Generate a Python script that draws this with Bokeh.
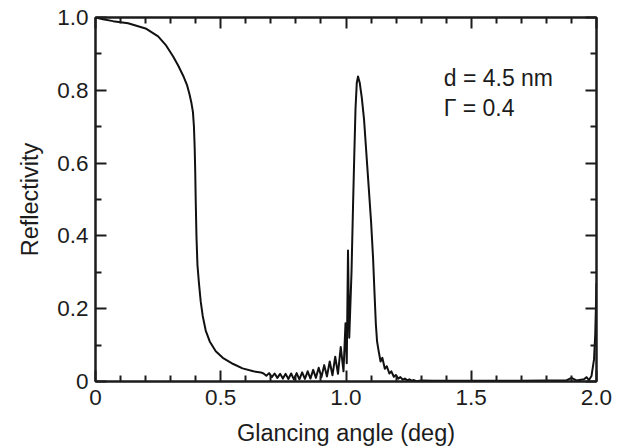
from bokeh.plotting import figure
from bokeh.models import Range1d, LinearAxis, FixedTicker, Label, ColumnDataSource
from bokeh.embed import file_html
from bokeh.resources import INLINE

# ---- data ----
angle_deg = [
    0.000, 0.030, 0.070, 0.130, 0.200, 0.250, 0.280, 0.310, 0.330, 0.350,
    0.365, 0.375, 0.383, 0.389, 0.393, 0.396, 0.398, 0.400, 0.403, 0.407,
    0.413, 0.420, 0.428, 0.440, 0.456, 0.480, 0.508, 0.550, 0.587, 0.630,
    0.660, 0.671, 0.682, 0.693, 0.704, 0.715, 0.726, 0.737, 0.748, 0.759,
    0.770, 0.781, 0.792, 0.803, 0.814, 0.825, 0.836, 0.847, 0.858, 0.869,
    0.880, 0.891, 0.902, 0.913, 0.924, 0.935, 0.946, 0.957, 0.968, 0.979,
    0.990, 0.998, 1.003, 1.008, 1.013, 1.022, 1.028, 1.033, 1.038, 1.043,
    1.048, 1.055, 1.063, 1.072, 1.080, 1.090, 1.100, 1.108, 1.114, 1.119,
    1.124, 1.130, 1.138, 1.145, 1.155, 1.163, 1.173, 1.181, 1.191,
    1.199, 1.209, 1.217, 1.227, 1.235, 1.245, 1.253, 1.263, 1.271, 1.281,
    1.300, 1.350, 1.400, 1.500, 1.600, 1.700, 1.800, 1.880, 1.900, 1.920,
    1.950, 1.960, 1.970, 1.980, 1.990, 1.995, 2.000,
]
reflectivity = [
    1.000, 0.995, 0.990, 0.984, 0.970, 0.948, 0.925, 0.893, 0.868, 0.840,
    0.815, 0.790, 0.765, 0.740, 0.700, 0.640, 0.580, 0.500, 0.400, 0.320,
    0.270, 0.220, 0.180, 0.140, 0.110, 0.083, 0.065, 0.048, 0.036, 0.028,
    0.025, 0.022, 0.016, 0.023, 0.012, 0.022, 0.010, 0.021, 0.008, 0.021,
    0.007, 0.022, 0.006, 0.023, 0.006, 0.025, 0.007, 0.028, 0.008, 0.032,
    0.010, 0.038, 0.012, 0.045, 0.014, 0.055, 0.017, 0.068, 0.021, 0.095,
    0.028, 0.160, 0.050, 0.360, 0.120, 0.300, 0.480, 0.620, 0.750, 0.820,
    0.838, 0.820, 0.780, 0.720, 0.640, 0.540, 0.440, 0.340, 0.240, 0.160,
    0.110, 0.085, 0.055, 0.065, 0.035, 0.042, 0.022, 0.028, 0.013,
    0.018, 0.008, 0.012, 0.005, 0.008, 0.003, 0.006, 0.002, 0.004, 0.001,
    0.003, 0.002, 0.002, 0.002, 0.002, 0.002, 0.003, 0.003, 0.010, 0.003,
    0.006, 0.012, 0.004, 0.015, 0.060, 0.130, 0.270,
]

x_ticks = [0.0, 0.5, 1.0, 1.5, 2.0]
x_tick_labels = ["0", "0.5", "1.0", "1.5", "2.0"]
x_minor_ticks = [0.1, 0.2, 0.3, 0.4, 0.6, 0.7, 0.8, 0.9, 1.1, 1.2, 1.3, 1.4,
                 1.6, 1.7, 1.8, 1.9]
y_ticks = [0.0, 0.2, 0.4, 0.6, 0.8, 1.0]
y_tick_labels = ["0", "0.2", "0.4", "0.6", "0.8", "1.0"]
y_minor_ticks = [0.1, 0.3, 0.5, 0.7, 0.9]

x_title = "Glancing angle (deg)"
y_title = "Reflectivity"
note_lines = ["d = 4.5 nm", "\u0393 = 0.4"]
note_x = [1.39, 1.39]
note_y = [0.834, 0.752]

FONT = "Liberation Sans"
INK = "#1c1c1c"

p = figure(width=617, height=448, output_backend="svg", toolbar_location=None,
           x_range=Range1d(0, 2), y_range=Range1d(0, 1),
           min_border_left=95, min_border_right=21,
           min_border_top=17, min_border_bottom=64)
p.xgrid.visible = False
p.ygrid.visible = False
p.outline_line_color = INK
p.outline_line_width = 2
p.background_fill_color = "white"
p.border_fill_color = "white"

src = ColumnDataSource(dict(x=angle_deg, y=reflectivity))
p.line("x", "y", source=src, line_color="#111111", line_width=2,
       line_join="round")


def style_axis(ax, ticks, minor, labels, show_labels):
    ax.ticker = FixedTicker(ticks=ticks, minor_ticks=minor)
    ax.axis_line_color = INK
    ax.axis_line_width = 2
    ax.major_tick_line_color = INK
    ax.minor_tick_line_color = INK
    ax.major_tick_line_width = 2
    ax.minor_tick_line_width = 2
    ax.major_tick_in = 11
    ax.major_tick_out = 0
    ax.minor_tick_in = 6
    ax.minor_tick_out = 0
    if show_labels:
        ax.major_label_overrides = {t: l for t, l in zip(ticks, labels)}
        ax.major_label_text_font = FONT
        ax.major_label_text_font_size = "22.5px"
        ax.major_label_text_color = INK
        ax.axis_label_text_font = FONT
        ax.axis_label_text_font_size = "23.5px"
        ax.axis_label_text_font_style = "normal"
        ax.axis_label_text_color = INK
    else:
        ax.major_label_text_font_size = "1px"
        ax.major_label_text_color = None
        ax.major_label_standoff = 0


xa = p.xaxis[0]
style_axis(xa, x_ticks, x_minor_ticks, x_tick_labels, True)
xa.axis_label = x_title
xa.major_label_standoff = 8
xa.axis_label_standoff = 12

ya = p.yaxis[0]
style_axis(ya, y_ticks, y_minor_ticks, y_tick_labels, True)
ya.axis_label = y_title
ya.major_label_standoff = 7
ya.axis_label_standoff = 11

top = LinearAxis()
style_axis(top, x_ticks, x_minor_ticks, x_tick_labels, False)
p.add_layout(top, "above")

right = LinearAxis()
style_axis(right, y_ticks, y_minor_ticks, y_tick_labels, False)
p.add_layout(right, "right")

for tx, ty, txt in zip(note_x, note_y, note_lines):
    p.add_layout(Label(x=tx, y=ty, text=txt, text_font=FONT,
                       text_font_size="23px", text_color=INK,
                       text_baseline="alphabetic", text_align="left"))

open("out.html", "w").write(file_html(p, INLINE))
